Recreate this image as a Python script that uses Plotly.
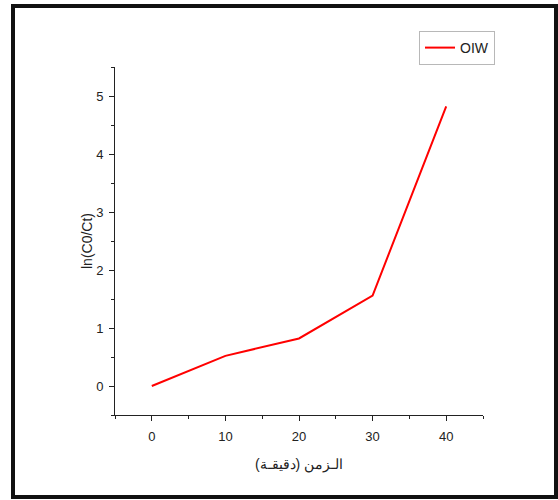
import plotly.graph_objects as go

time_min = [0, 10, 20, 30, 40]
ln_c0_ct = [0.0, 0.52, 0.82, 1.56, 4.82]
series_name = "OIW"
x_title = "الـزمن (دقيقـة)"
y_title = "ln(C0/Ct)"

fig = go.Figure()
fig.add_trace(go.Scatter(x=time_min, y=ln_c0_ct, mode="lines", name=series_name,
                         line=dict(color="#ff0000", width=2)))

L, R, T, B = 115, 75, 67, 85
W, H = 558, 500
pw, ph = W - L - R, H - T - B

def px(x):
    return (x - L) / pw

def py(y):
    return (H - B - y) / ph

font = "Liberation Sans, Arial, sans-serif"
fig.update_layout(
    width=W, height=H,
    margin=dict(l=L, r=R, t=T, b=B),
    paper_bgcolor="white", plot_bgcolor="white",
    font=dict(family=font, size=13, color="#222"),
    showlegend=True,
    legend=dict(x=px(419), y=py(31), xanchor="left", yanchor="top",
                bordercolor="#b8b8b8", borderwidth=1, bgcolor="white",
                font=dict(size=14, color="#222"), itemwidth=30,
                tracegroupgap=0),
    xaxis=dict(range=[-5, 45], tickvals=[0, 10, 20, 30, 40],
               showgrid=False, zeroline=False, showline=True, linecolor="#222", linewidth=1,
               ticks="outside", ticklen=5, tickcolor="#222", tickwidth=1,
               ticklabelstandoff=4,
               minor=dict(tickvals=[-5, 5, 15, 25, 35, 45], ticks="outside", ticklen=3, tickcolor="#222"),
               tickfont=dict(size=13),
               title=dict(text=x_title, font=dict(size=14), standoff=16)),
    yaxis=dict(range=[-0.5, 5.5], tickvals=[0, 1, 2, 3, 4, 5],
               showgrid=False, zeroline=False, showline=True, linecolor="#222", linewidth=1,
               ticks="outside", ticklen=5, tickcolor="#222", tickwidth=1,
               ticklabelstandoff=3,
               minor=dict(tickvals=[-0.5, 0.5, 1.5, 2.5, 3.5, 4.5, 5.5], ticks="outside", ticklen=3, tickcolor="#222"),
               tickfont=dict(size=13),
               title=dict(text=y_title, font=dict(size=14), standoff=0)),
    shapes=[dict(type="rect", xref="paper", yref="paper",
                 x0=px(13), x1=px(556), y0=py(6), y1=py(497),
                 line=dict(color="#111", width=4), fillcolor="rgba(0,0,0,0)", layer="above")],
)

fig.write_html("out.html")
